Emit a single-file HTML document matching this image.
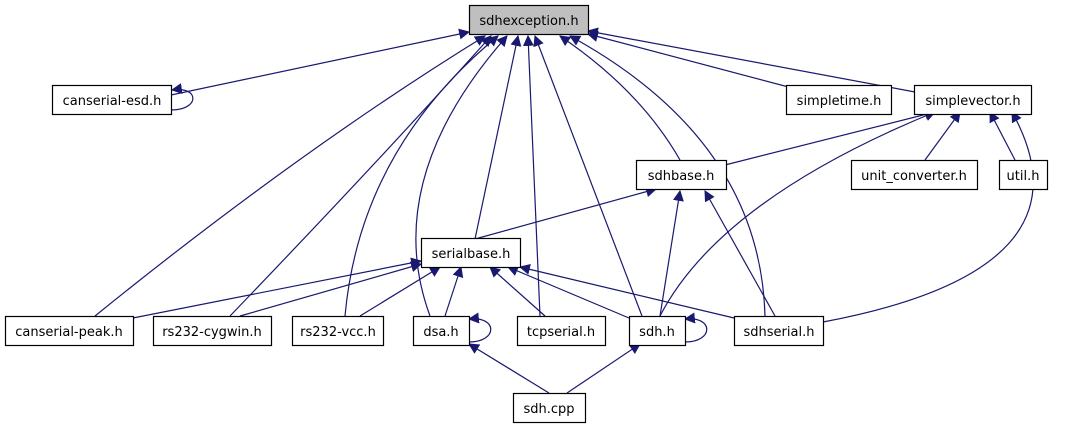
<!DOCTYPE html>
<html><head><meta charset="utf-8"><style>
html,body{margin:0;padding:0;background:#fff;}
svg text{font-family:"DejaVu Sans","Liberation Sans",sans-serif;font-size:13px;fill:#000;}
</style></head><body>
<svg width="1068" height="427" viewBox="0 0 1068 427" xmlns="http://www.w3.org/2000/svg">
<defs>
<marker id="a" viewBox="0 0 10 10" refX="9" refY="5" markerWidth="11" markerHeight="11" markerUnits="userSpaceOnUse" orient="auto">
<path d="M0,0 L10,5 L0,10 z" fill="#191970"/>
</marker>
</defs>
<g fill="none" stroke="#191970" stroke-width="1.2" marker-end="url(#a)">
<path d="M171,95 L469,32"/>
<path d="M95,316 Q300,150 485,36"/>
<path d="M230,316 Q380,160 491,36"/>
<path d="M345,316 Q360,150 498,36"/>
<path d="M430,316 Q380,180 507,36"/>
<path d="M475,239 L518,36"/>
<path d="M540,316 L528,36"/>
<path d="M642,316 L535,36"/>
<path d="M680,160 Q640,90 560,36"/>
<path d="M765,316 Q760,140 570,36"/>
<path d="M800,90 L588,34"/>
<path d="M915,92 L588,31"/>
<path d="M725,165 L935,112"/>
<path d="M660,316 Q720,200 935,112"/>
<path d="M925,160 L960,112"/>
<path d="M1015,160 L990,112"/>
<path d="M823,322 Q1100,270 1012,112"/>
<path d="M475,239 L656,189"/>
<path d="M660,316 L680,191"/>
<path d="M775,316 L705,191"/>
<path d="M133,318 L421,261"/>
<path d="M240,316 L421,264"/>
<path d="M360,316 L440,267"/>
<path d="M445,316 L461,267"/>
<path d="M545,316 L490,267"/>
<path d="M629,318 L508,267"/>
<path d="M734,318 L520,267"/>
<path d="M549,393 L469,344"/>
<path d="M567,393 L640,344"/>
<path d="M171,110 C200,110 200,86 172,90"/>
<path d="M469,342 C498,342 498,316 469,319"/>
<path d="M685,342 C714,342 714,316 685,319"/>
</g>
<g stroke="#000" stroke-width="1.2">
<rect x="469.5" y="5.5" width="119" height="29" fill="#bfbfbf"/>
<g fill="#fff">
<rect x="52.5" y="85.5" width="119" height="29"/>
<rect x="786.5" y="85.5" width="105" height="29"/>
<rect x="914.5" y="85.5" width="117" height="29"/>
<rect x="636.5" y="160.5" width="90" height="29"/>
<rect x="851.5" y="160.5" width="126" height="29"/>
<rect x="999.5" y="160.5" width="48" height="29"/>
<rect x="421.5" y="238.5" width="99" height="29"/>
<rect x="5.5" y="316.5" width="128" height="29"/>
<rect x="153.5" y="316.5" width="118" height="29"/>
<rect x="292.5" y="316.5" width="91" height="29"/>
<rect x="413.5" y="316.5" width="56" height="29"/>
<rect x="517.5" y="316.5" width="88" height="29"/>
<rect x="629.5" y="316.5" width="56" height="29"/>
<rect x="734.5" y="316.5" width="89" height="29"/>
<rect x="513.5" y="393.5" width="72" height="29"/>
</g></g>
<g text-anchor="middle">
<text x="529" y="25">sdhexception.h</text>
<text x="112" y="105">canserial-esd.h</text>
<text x="839" y="105">simpletime.h</text>
<text x="973" y="105">simplevector.h</text>
<text x="681" y="180">sdhbase.h</text>
<text x="914" y="180">unit_converter.h</text>
<text x="1023" y="180">util.h</text>
<text x="471" y="258">serialbase.h</text>
<text x="69" y="336">canserial-peak.h</text>
<text x="212" y="336">rs232-cygwin.h</text>
<text x="338" y="336">rs232-vcc.h</text>
<text x="441" y="336">dsa.h</text>
<text x="561" y="336">tcpserial.h</text>
<text x="657" y="336">sdh.h</text>
<text x="779" y="336">sdhserial.h</text>
<text x="549" y="413">sdh.cpp</text>
</g>
</svg>
</body></html>
